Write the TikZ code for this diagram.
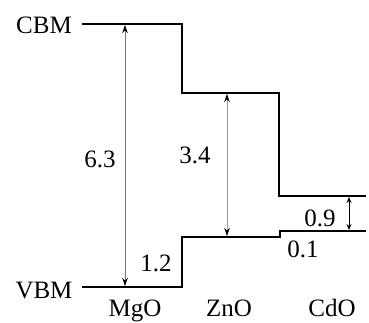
\documentclass[tikz,border=0pt]{standalone}
\usepackage{fontspec}
\setmainfont{Liberation Serif}
\usetikzlibrary{arrows.meta}
\begin{document}
\begin{tikzpicture}[x=1pt,y=-1pt,
  level/.style={line width=1.8pt,black,line join=miter},
  gap/.style={line width=0.8pt,draw=black!55,{Stealth[length=8pt,width=5.5pt,black]}-{Stealth[length=8pt,width=5.5pt,black]}},
  gapdark/.style={line width=0.9pt,draw=black,{Stealth[length=6pt,width=5pt]}-{Stealth[length=6pt,width=5pt]}},
  lbl/.style={inner sep=0pt,anchor=base,font=\fontsize{25}{30}\selectfont}]
\useasboundingbox (0,0) rectangle (369,322);
% level corners
\coordinate (c0) at (82,24);
\coordinate (c1) at (182,24);
\coordinate (c2) at (182,93);
\coordinate (c3) at (279,93);
\coordinate (c4) at (279,196);
\coordinate (c5) at (366,196);
\coordinate (v0) at (82,287);
\coordinate (v1) at (182,287);
\coordinate (v2) at (182,237);
\coordinate (v3) at (280,237);
\coordinate (v4) at (280,231);
\coordinate (v5) at (366,231);
\draw[level] (c0) -- (c1) -- (c2) -- (c3) -- (c4) -- (c5);
\draw[level] (v0) -- (v1) -- (v2) -- (v3) -- (v4) -- (v5);
% gap arrows
\coordinate (a1t) at (125,25);
\coordinate (a1b) at (125,286);
\coordinate (a2t) at (227,94);
\coordinate (a2b) at (227,236);
\coordinate (a3t) at (349,197);
\coordinate (a3b) at (349,230);
\draw[gap] (a1b) -- (a1t);
\draw[gap,draw=black!40] (a2b) -- (a2t);
\draw[gapdark] (a3b) -- (a3t);
% labels
\node[lbl] (cbm) at (44,33) {CBM};
\node[lbl] (vbm) at (44,298) {VBM};
\node[lbl] (g1) at (100,167) {6.3};
\node[lbl] (g2) at (195,163) {3.4};
\node[lbl] (d1) at (156,271) {1.2};
\node[lbl] (g3) at (320,226) {0.9};
\node[lbl] (d2) at (303,257) {0.1};
\node[lbl] (m1) at (135,316) {MgO};
\node[lbl] (m2) at (229,316) {ZnO};
\node[lbl] (m3) at (332,316) {CdO};
\end{tikzpicture}
\end{document}
